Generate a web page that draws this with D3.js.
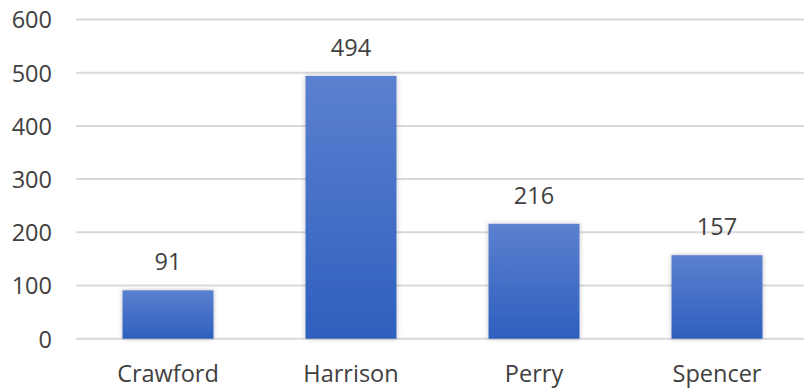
<!DOCTYPE html>
<html><head><meta charset="utf-8">
<script src="https://cdn.jsdelivr.net/npm/d3@7"></script>
<style>body{margin:0;background:#fff}svg{display:block}</style>
</head><body>
<svg id="c" width="804" height="388"></svg>
<script>
const categories = ["Crawford", "Harrison", "Perry", "Spencer"];
const values = [91, 494, 216, 157];
const yTicks = [0, 100, 200, 300, 400, 500, 600];

const svg = d3.select("#c");
const font = "'Open Sans', sans-serif";
const fs = 23.5;
const x = d3.scaleBand().domain(categories).range([76.5, 808.5]).paddingInner(0.503).paddingOuter(0.2515);
const y = d3.scaleLinear().domain([0, 600]).range([338.7, 19.5]);

const defs = svg.append("defs");
const g = defs.append("linearGradient").attr("id", "bg").attr("x1", 0).attr("y1", 0).attr("x2", 0).attr("y2", 1);
g.append("stop").attr("offset", "0%").attr("stop-color", "#5c80cf");
g.append("stop").attr("offset", "100%").attr("stop-color", "#2e5fbe");
const f = defs.append("filter").attr("id", "sh").attr("x", "-20%").attr("y", "-5%").attr("width", "140%").attr("height", "110%");
f.append("feDropShadow").attr("dx", 0).attr("dy", 0).attr("stdDeviation", 2.5).attr("flood-color", "#000").attr("flood-opacity", 0.25);

// gridlines
svg.append("g").selectAll("line").data(yTicks).join("line")
  .attr("x1", 76).attr("x2", 804)
  .attr("y1", d => y(d)).attr("y2", d => y(d))
  .attr("stroke", "#d9d9d9").attr("stroke-width", 2);

// y axis labels
const yAxis = d3.axisLeft(y).tickValues(yTicks).tickSize(0).tickPadding(0);
const ya = svg.append("g").attr("transform", "translate(52,0)").call(yAxis);
ya.select(".domain").remove();
ya.selectAll("text").attr("font-family", font).attr("font-size", fs).attr("fill", "#404040").attr("dy", "0.36em");

// bars
svg.append("g").selectAll("rect").data(values).join("rect")
  .attr("x", (d, i) => x(categories[i]))
  .attr("width", x.bandwidth())
  .attr("y", d => y(d))
  .attr("height", d => y(0) - y(d))
  .attr("fill", "url(#bg)")
  .attr("filter", "url(#sh)");

// value labels
svg.append("g").selectAll("text").data(values).join("text")
  .attr("x", (d, i) => x(categories[i]) + x.bandwidth() / 2)
  .attr("y", d => y(d) - 20)
  .attr("text-anchor", "middle")
  .attr("font-family", font).attr("font-size", fs).attr("fill", "#404040")
  .text(d => d);

// x axis labels
const xAxis = d3.axisBottom(x).tickSize(0).tickPadding(0);
const xa = svg.append("g").attr("transform", "translate(0,382)").call(xAxis);
xa.select(".domain").remove();
xa.selectAll("text").attr("font-family", font).attr("font-size", fs).attr("fill", "#404040").attr("dy", 0);
</script>
</body></html>
